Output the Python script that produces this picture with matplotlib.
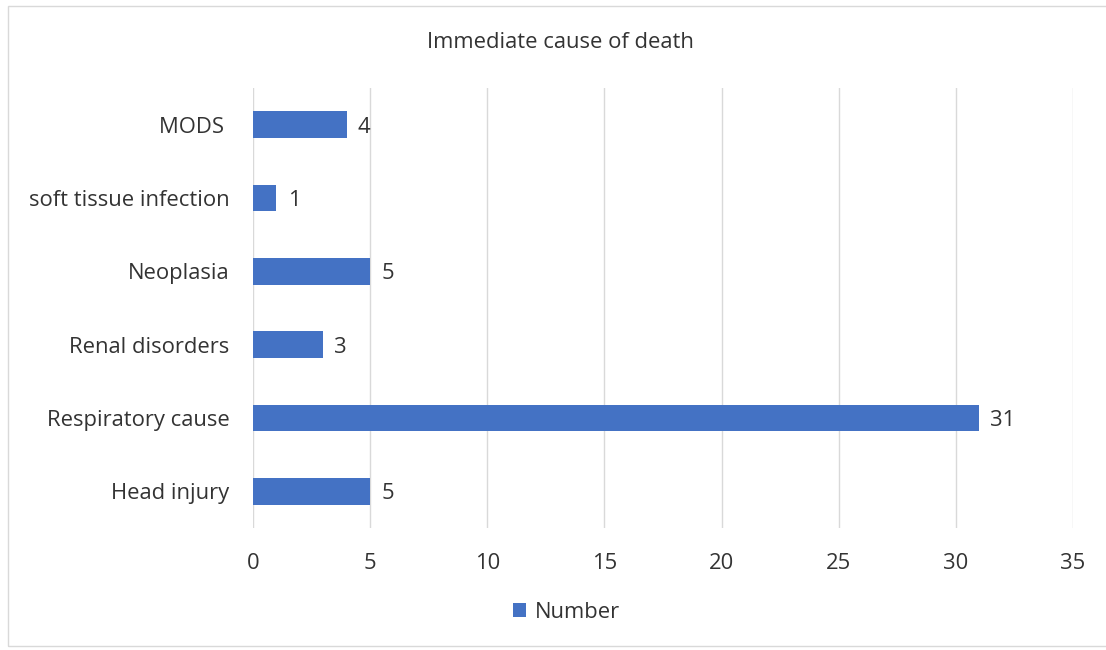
import matplotlib.pyplot as plt
from matplotlib.patches import Rectangle

causes = ["Head injury", "Respiratory cause", "Renal disorders", "Neoplasia",
          "soft tissue infection", "MODS "]
number = [5, 31, 3, 5, 1, 4]
xticks = [0, 5, 10, 15, 20, 25, 30, 35]

plt.rcParams['font.family'] = ['Open Sans', 'DejaVu Sans']
bar_color = '#4472C4'
text_color = '#333333'

fig = plt.figure(figsize=(11.06, 6.5), dpi=100)
ax = fig.add_axes([0.2288, 0.1877, 0.7414, 0.6769])

ax.barh(range(len(causes)), number, height=0.36, color=bar_color, label='Number', zorder=3)
for i, v in enumerate(number):
    ax.annotate(str(v), (v, i), xytext=(8, 0), textcoords='offset points',
                va='center_baseline', ha='left', fontsize=15.8, color=text_color)

ax.set_xlim(0, 35)
ax.set_ylim(-0.5, len(causes) - 0.5)
ax.set_xticks(xticks)
ax.set_yticks(range(len(causes)))
ax.set_yticklabels(causes, va='center_baseline')
ax.tick_params(axis='both', length=0, labelsize=15.8, colors=text_color)
ax.tick_params(axis='x', pad=18)
ax.tick_params(axis='y', pad=17)
ax.grid(axis='x', color='#D9D9D9', linewidth=1, zorder=0)
for s in ax.spines.values():
    s.set_visible(False)

fig.text(0.507, 0.935, 'Immediate cause of death', ha='center', va='center',
         fontsize=15.8, color=text_color)

leg = fig.legend(loc='center', bbox_to_anchor=(0.512, 0.058), frameon=False,
                 fontsize=15.8, handlelength=0.6, handleheight=0.6, handletextpad=0.4)
for t in leg.get_texts():
    t.set_color(text_color)

# chart frame
fig.patches.append(Rectangle((0.0075, 0.006), 1.1, 0.985, transform=fig.transFigure,
                             fill=False, edgecolor='#D9D9D9', linewidth=1))

fig.savefig('out.png', dpi=100)
